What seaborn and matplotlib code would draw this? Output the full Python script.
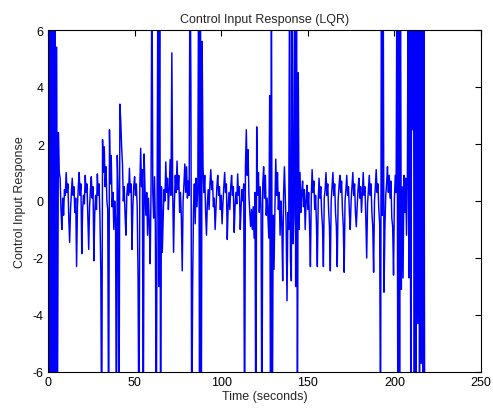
import numpy as np
import pandas as pd
import matplotlib
matplotlib.use("Agg")
import matplotlib.pyplot as plt
import seaborn as sns

# sample interval of the recorded control signal (s)
sample_dt = 0.5

# control input values, one per 0.5 s (t = 0 ... 217.5)
u_values = [
    # 0 - 4.5
    9, -9, 9, -9, 9, -9, 9, -9, 9, -9,
    # 5 - 9.5
    5.4, -7, 2.4, 1.0, 0.8, -0.3, -1.0, 0.1, -0.5, 0.4,
    # 10 - 14.5
    0.2, 1.0, 0.3, 0.6, -0.6, -1.45, -0.3, 0.3, 0.8, 0.2,
    # 15 - 19.5
    0.5, -0.4, 0.1, -2.3, -0.2, 0.5, 1.0, 0.2, 0.6, -1.85,
    # 20 - 24.5
    -0.3, 0.2, -0.1, 0.9, 0.3, 0.6, -0.5, -1.7, -0.2, 0.4,
    # 25 - 29.5
    0.85, 0.1, 0.5, -2.1, -0.4, 0.2, -0.3, 0.95, 0.2, 0.6,
    # 30 - 34.5
    -0.6, -2.5, -9, 2.15, 1.0, 1.9, 0.5, 1.2, 0.0, -0.3,
    # 35 - 39.5
    -9, 2.5, 0.6, 1.6, -0.2, 0.3, -1.0, 0.0, -0.6, -9,
    # 40 - 44.5
    1.6, 0.4, -9, 3.4, 2.8, 1.9, 1.3, 0.0, 0.5, -0.5,
    # 45 - 49.5
    -1.2, 0.2, 0.6, 0.2, 1.15, 0.3, 0.6, -1.7, -0.2, 0.5,
    # 50 - 54.5
    0.85, 0.2, 0.6, -0.2, -2.7, -9, 0.5, 1.85, 0.5, 1.1,
    # 55 - 59.5
    -9, 1.65, 0.4, -0.5, 0.3, -1.2, 0.1, -0.8, -2.2, 0.5,
    # 60 - 64.5
    9, 0.3, -0.6, 0.85, -0.9, -9, 0.2, 9, -3, 9,
    # 65 - 69.5
    -9, 0.5, -1.8, -0.6, 0.4, 0.0, 1.37, 0.3, 0.8, -0.3,
    # 70 - 74.5
    0.4, 1.45, 0.2, 5.2, 0.3, -1.8, 0.0, 0.9, 0.3, 1.4,
    # 75 - 79.5
    0.4, 0.9, -0.4, 0.3, -0.6, -2.45, 0.0, 0.6, 1.3, 0.3,
    # 80 - 84.5
    1.2, 0.1, 0.7, 0.2, 9, 4.2, -9, -3.0, -0.3, 0.6,
    # 85 - 89.5
    -0.8, 0.8, -0.2, 0.5, 9, -9, 9, -9, 5.6, 1.2,
    # 90 - 94.5
    0.3, 0.9, -0.4, -1.2, -0.1, 0.4, -0.3, 0.6, 1.1, 0.4,
    # 95 - 99.5
    0.7, -0.2, 0.1, -1.0, -0.2, 0.5, 0.9, 0.2, 0.5, -0.3,
    # 100 - 104.5
    0.2, -0.8, -0.1, 0.5, 1.0, 0.3, 0.6, -1.35, -0.2, 0.3,
    # 105 - 109.5
    -0.3, 0.5, 0.9, 0.2, 0.5, -1.1, -0.2, 0.3, -0.1, 0.95,
    # 110 - 114.5
    0.2, 0.5, -1.0, -0.2, 0.4, 0.0, 0.6, -9, 1.2, 2.5,
    # 115 - 119.5
    0.9, 1.8, 0.2, -0.4, -0.9, -0.3, -1.0, -0.2, -1.3, 0.3,
    # 120 - 124.5
    -9, 2.6, 0.2, 1.0, -0.4, 0.5, -0.2, -9, 0.6, 1.2,
    # 125 - 129.5
    0.1, 0.9, -0.5, 0.1, -0.6, -1.3, 3.7, -9, 9, -9,
    # 130 - 134.5
    -0.5, -2.4, -0.3, 1.47, 0.2, 1.0, -0.3, 0.3, -1.2, 0.0,
    # 135 - 139.5
    -0.8, -2.8, 0.2, 1.2, 0.1, -0.9, -3.5, -0.4, -1.0, 9,
    # 140 - 144.5
    -2.1, -2.8, 9, -1.5, -0.5, 9, -3, 9, -9, 4.5,
    # 145 - 149.5
    -1.0, 1.0, -0.4, 0.3, 0.7, -0.2, 0.4, -1.0, 0.0, 0.55,
    # 150 - 154.5
    -0.3, 0.3, -0.8, -2.3, 0.1, 1.1, 0.3, 0.7, -0.3, 0.2,
    # 155 - 159.5
    -0.8, -2.3, 0.0, 0.8, 0.1, 0.5, -0.4, -0.9, -2.3, 0.1,
    # 160 - 164.5
    0.4, 1.0, 0.2, 0.6, -0.3, -0.9, -2.45, 0.0, 0.5, 1.0,
    # 165 - 169.5
    0.2, 0.6, -0.4, -0.9, -2.3, 0.0, 0.5, 0.9, 0.3, 0.7,
    # 170 - 174.5
    -0.3, -0.9, -2.5, 0.0, 0.4, 0.9, 0.2, 0.5, -0.4, -1.0,
    # 175 - 179.5
    0.0, 0.5, 1.0, 0.2, 0.6, -0.4, -0.9, -0.2, 0.4, 0.8,
    # 180 - 184.5
    0.1, 0.5, -0.4, 0.3, 1.0, 0.2, 0.5, -0.6, -2.0, -0.1,
    # 185 - 189.5
    0.4, 0.9, 0.2, 0.6, -0.4, -0.9, -2.5, 0.0, 0.5, 1.1,
    # 190 - 194.5
    0.3, 0.6, -0.3, -0.8, -9, 9, -0.5, 9, -3.2, -1.0,
    # 195 - 199.5
    0.2, 0.6, 1.2, 0.3, 0.9, 0.1, 0.7, -0.6, -0.9, -2.6,
    # 200 - 204.5
    0.1, 0.9, 0.3, 9, -9, 9, -9, 9, -3.1, 0.5,
    # 205 - 209.5
    -2.7, 0.9, -0.4, 0.8, -1.2, 0.9, 9, -2.7, 9, -9,
    # 210 - 214.5
    9, 2.5, 9, -9, 9, -9, 9, -4.3, 9, -9,
    # 215 - 217.5
    9, -5.7, 9, -9, 9, -9,
]

x_ticks = [0, 50, 100, 150, 200, 250]
y_ticks = [-6, -4, -2, 0, 2, 4, 6]

time_s = np.arange(len(u_values)) * sample_dt
df = pd.DataFrame({"time": time_s, "u": u_values})

sns.set_style("white")
plt.rcParams["font.family"] = ["Liberation Sans", "DejaVu Sans"]

fig = plt.figure(figsize=(4.93, 4.14), dpi=100)
ax = fig.add_axes([48 / 493, 41 / 414, 433 / 493, 342 / 414])

sns.lineplot(data=df, x="time", y="u", ax=ax, color=(0, 0, 1),
             linewidth=1.05, estimator=None, sort=False)

ax.set_xlim(0, 250)
ax.set_ylim(-6, 6)
ax.set_xticks(x_ticks)
ax.set_yticks(y_ticks)
ax.set_xticklabels([str(v) for v in x_ticks])
ax.set_yticklabels([str(v) for v in y_ticks])
ax.tick_params(direction="in", length=4, width=0.8, top=True, right=True,
               labelsize=9, colors="black", pad=3)
for s in ax.spines.values():
    s.set_visible(True)
    s.set_color("black")
    s.set_linewidth(0.8)

ax.set_xlabel("Time (seconds)", fontsize=9, labelpad=1)
ax.set_ylabel("Control Input Response", fontsize=9, labelpad=5)
ax.set_title("Control Input Response (LQR)", fontsize=9, pad=6)

fig.savefig("out.png", dpi=100)
